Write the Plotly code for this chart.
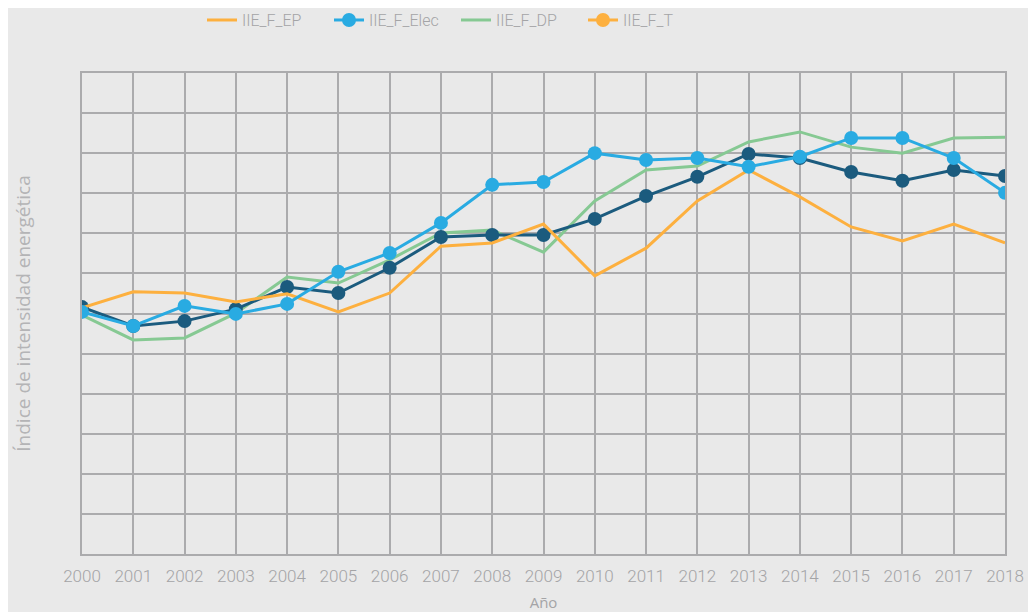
import plotly.graph_objects as go

years = list(range(2000, 2019))
iie_f_ep = [1.014, 1.054, 1.051, 1.029, 1.049, 1.004, 1.051, 1.168, 1.176, 1.223,
            1.094, 1.163, 1.281, 1.358, 1.291, 1.216, 1.181, 1.223, 1.176]
iie_f_elec = [1.004, 0.969, 1.019, 0.999, 1.024, 1.104, 1.151, 1.226, 1.321, 1.328,
              1.400, 1.383, 1.388, 1.366, 1.391, 1.438, 1.438, 1.388, 1.301]
iie_f_dp = [0.996, 0.934, 0.939, 1.001, 1.091, 1.076, 1.134, 1.201, 1.208, 1.153,
            1.281, 1.358, 1.368, 1.428, 1.453, 1.415, 1.400, 1.438, 1.440]
iie_f_t = [1.016, 0.969, 0.981, 1.011, 1.066, 1.051, 1.114, 1.191, 1.196, 1.196,
           1.236, 1.293, 1.341, 1.398, 1.388, 1.353, 1.331, 1.358, 1.343]

C_EP = "#FDB03F"
C_ELEC = "#29ABE2"
C_DP = "#86C993"
C_T_LINE = "#1B5B7E"
C_T_LEG = "#FDB03F"
GRID = "#ABABAD"
TXT = "#A4A4A6"
FONT = "Roboto, sans-serif"

fig = go.Figure()
fig.add_trace(go.Scatter(x=years, y=iie_f_dp, name="IIE_F_DP", mode="lines",
                         line=dict(color=C_DP, width=3), legendrank=3))
fig.add_trace(go.Scatter(x=years, y=iie_f_t, name="IIE_F_T", mode="lines+markers",
                         line=dict(color=C_T_LINE, width=3),
                         marker=dict(color=C_T_LINE, size=14), showlegend=False))
fig.add_trace(go.Scatter(x=years, y=iie_f_ep, name="IIE_F_EP", mode="lines",
                         line=dict(color=C_EP, width=3), legendrank=1))
fig.add_trace(go.Scatter(x=years, y=iie_f_elec, name="IIE_F_Elec", mode="lines+markers",
                         line=dict(color=C_ELEC, width=3),
                         marker=dict(color=C_ELEC, size=14), legendrank=2))
# legend entry for IIE_F_T as shown in the reference legend
fig.add_trace(go.Scatter(x=[None], y=[None], name="IIE_F_T", mode="lines+markers",
                         line=dict(color=C_T_LEG, width=3),
                         marker=dict(color=C_T_LEG, size=14), legendrank=4))

fig.update_layout(
    width=1028, height=604,
    paper_bgcolor="#E9E9E9", plot_bgcolor="#E9E9E9",
    margin=dict(l=74, r=31, t=65, b=58, autoexpand=False),
    font=dict(family=FONT, color=TXT, size=17),
    showlegend=True,
    legend=dict(orientation="h", x=0.130, xanchor="left", y=1.11, yanchor="middle",
                font=dict(family=FONT, size=16, color=TXT, weight=300),
                entrywidth=82, entrywidthmode="pixels",
                bgcolor="rgba(0,0,0,0)", traceorder="normal"),
)
fig.update_xaxes(range=[2000, 2018], tickmode="array", tickvals=years,
                 ticktext=[str(y) for y in years],
                 showgrid=True, gridcolor=GRID, gridwidth=2,
                 showline=True, linecolor=GRID, linewidth=2, mirror=True,
                 zeroline=False, ticks="", ticklabelstandoff=6,
                 tickfont=dict(family=FONT, size=17, color=TXT, weight=300),
                 title=dict(text="Año", font=dict(family="Open Sans", size=15, color=TXT),
                            standoff=22))
fig.update_yaxes(range=[0.4, 1.6], tick0=0.4, dtick=0.1, showticklabels=False,
                 showgrid=True, gridcolor=GRID, gridwidth=2,
                 showline=True, linecolor=GRID, linewidth=2, mirror=True,
                 zeroline=False, ticks="",
                 title=dict(text="Índice de intensidad energética",
                            font=dict(family="Open Sans", size=19, color="#B4B4B6"),
                            standoff=44))

fig.write_html("out.html")
